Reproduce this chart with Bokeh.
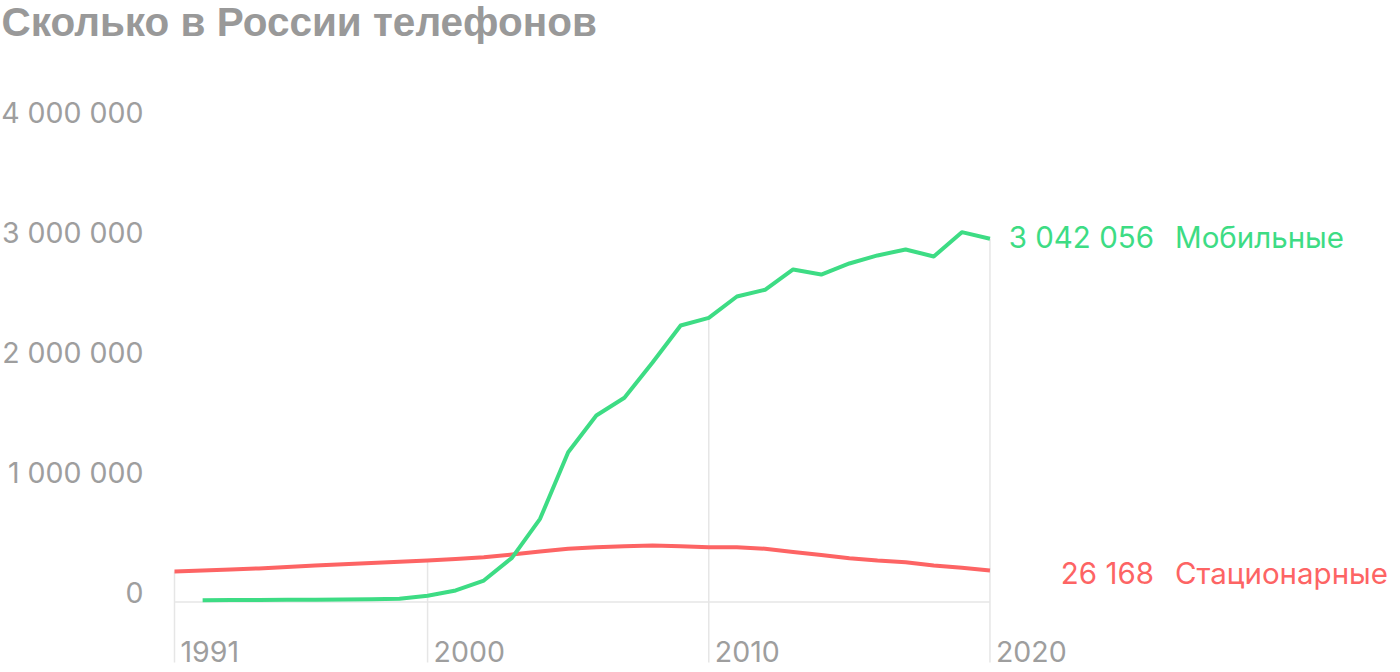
from bokeh.plotting import figure
from bokeh.models import Range1d, ColumnDataSource
from bokeh.core.properties import value
from bokeh.embed import file_html
from bokeh.resources import INLINE

# ---------------- data ----------------
title = "Сколько в России телефонов"

years_mobile = list(range(1992, 2021))
mobile = [15000, 16000, 17000, 18000, 19000, 20000, 22000, 27000, 52000,
          96000, 179000, 368000, 693000, 1248000, 1554000, 1702000, 1996000,
          2304000, 2368000, 2546000, 2602000, 2771000, 2729000, 2821000,
          2888000, 2938000, 2879000, 3082000, 3027000]

years_fixed = list(range(1991, 2021))
fixed = [254000, 262000, 270000, 280000, 292000, 304000, 314000, 325000,
         336000, 346000, 358000, 372000, 395000, 420000, 443000, 457000,
         465000, 470000, 465000, 457000, 457000, 444000, 417000, 391000,
         364000, 345000, 332000, 305000, 286000, 263000]

x_ticks = [1991, 2000, 2010, 2020]
x_labels = ["1991", "2000", "2010", "2020"]
y_ticks = [0, 1000000, 2000000, 3000000, 4000000]
y_labels = ["0", "1 000 000", "2 000 000", "3 000 000", "4 000 000"]

series_names = ["Мобильные", "Стационарные"]
series_values = ["3 042 056", "26 168"]

# ---------------- style ----------------
W, H = 1400, 672
X0, X1 = 1984.812, 2034.599
Y0, Y1 = -587500, 5012500
GREEN = "#3ddc84"
RED = "#fd6464"
GRAY = "#9e9e9e"
GRID = "#e6e6e6"
FONT = "Inter"


def px(x):
    return X0 + x / W * (X1 - X0)


def py(y):
    return Y1 - y / H * (Y1 - Y0)


p = figure(width=W, height=H, x_range=Range1d(X0, X1), y_range=Range1d(Y0, Y1),
           x_axis_type=None, y_axis_type=None, output_backend="svg",
           toolbar_location=None, min_border=0, outline_line_color=None,
           background_fill_color="white", border_fill_color="white")
p.grid.visible = False

# drop lines at labelled years, up to the highest series value
lookup_m = dict(zip(years_mobile, mobile))
lookup_f = dict(zip(years_fixed, fixed))
tops = [max(lookup_m.get(y, 0), lookup_f.get(y, 0)) for y in x_ticks]
bottom = py(662)
p.segment(x0=x_ticks, y0=[bottom] * len(x_ticks), x1=x_ticks, y1=tops,
          line_color=GRID, line_width=1.5)

# baseline
p.segment(x0=[x_ticks[0]], y0=[0], x1=[x_ticks[-1]], y1=[0],
          line_color=GRID, line_width=1.5)

# series
p.line(years_fixed, fixed, line_color=RED, line_width=4, line_join="round")
p.line(years_mobile, mobile, line_color=GREEN, line_width=4, line_join="round")

# y tick labels (sit just above their value)
p.text(x=[px(143)] * len(y_ticks), y=y_ticks, text=y_labels, y_offset=-10,
       text_align="right", text_baseline="middle",
       text_font=value(FONT), text_font_size=value("28.5px"), text_color=GRAY)

# x tick labels
p.text(x=x_ticks, y=[py(651)] * len(x_ticks), text=x_labels, x_offset=6,
       text_align="left", text_baseline="middle",
       text_font=value(FONT), text_font_size=value("28.5px"), text_color=GRAY)

# end labels
end_src = ColumnDataSource(dict(
    x=[years_mobile[-1], years_fixed[-1]],
    y=[mobile[-1], fixed[-1]],
    val=series_values,
    name=series_names,
    color=[GREEN, RED],
    yoff=[-1.6, 2.2],
))
p.text(x="x", y="y", text="val", source=end_src, x_offset=164, y_offset="yoff",
       text_align="right", text_baseline="middle",
       text_font=value(FONT), text_font_size=value("29.5px"), text_color="color")
p.text(x="x", y="y", text="name", source=end_src, x_offset=185, y_offset="yoff",
       text_align="left", text_baseline="middle",
       text_font=value(FONT), text_font_size=value("29.5px"), text_color="color")

# title
p.text(x=[px(1)], y=[py(21.5)], text=[title], text_align="left",
       text_baseline="middle", text_font=value("Liberation Sans"),
       text_font_style="bold", text_font_size=value("40.5px"), text_color="#999999")

open("out.html", "w").write(file_html(p, INLINE))
